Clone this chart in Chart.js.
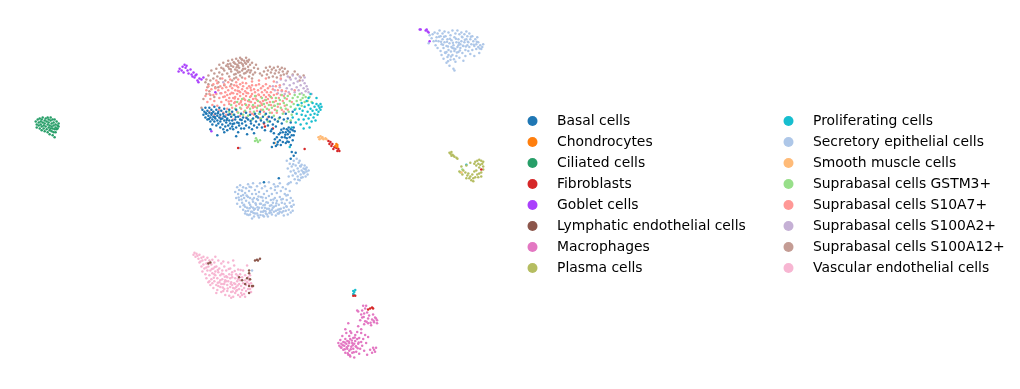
<!DOCTYPE html>
<html>
<head>
<meta charset="utf-8">
<script src="https://cdn.jsdelivr.net/npm/chart.js@4/dist/chart.umd.js"></script>
<style>
body { margin: 0; background: #fff; }
canvas { display: block; }
</style>
</head>
<body>
<canvas id="umapChart" width="1020" height="389"></canvas>
<script>
// values, [umap1, umap2] per cell
const basalCells = [[200,108],[201,113],[202,110],[203,106],[203,116],[204,112],[205,109],[205,118],[206,114],[207,106],[207,111],[208,116],[208,120],[209,108],[209,113],[210,118],[210,123],[211,110],[211,115],[212,105],[212,120],[213,112],[213,117],[214,108],[214,124],[215,114],[215,119],[216,110],[216,122],[217,106],[217,116],[218,113],[218,120],[218,126],[219,109],[220,117],[220,123],[221,112],[221,128],[222,107],[222,119],[223,115],[223,125],[224,110],[224,121],[225,117],[225,129],[226,113],[226,124],[227,108],[227,119],[228,122],[228,127],[229,115],[230,110],[230,119],[230,125],[231,128],[232,113],[232,122],[233,118],[234,108],[234,126],[235,121],[236,115],[236,131],[237,124],[238,118],[239,112],[239,127],[240,122],[241,116],[242,127],[243,120],[244,111],[244,124],[245,133],[246,118],[247,126],[248,113],[249,122],[250,128],[251,117],[252,124],[253,112],[254,120],[255,126],[256,116],[257,123],[258,110],[259,119],[260,126],[261,115],[262,121],[263,129],[264,112],[265,118],[266,124],[267,115],[268,120],[269,130],[270,116],[271,123],[273,118],[274,125],[276,120],[278,116],[280,122],[282,118],[284,112],[286,117],[289,121],[291,110],[215,134],[222,131],[208,128],[234,135],[252,132],[270,128],[272,132],[270,146],[272,142],[273,138],[274,145],[275,136],[276,141],[277,133],[278,139],[279,144],[280,136],[281,131],[281,141],[282,127],[283,136],[284,131],[284,142],[285,128],[285,137],[286,133],[287,126],[287,141],[288,131],[288,136],[289,128],[289,144],[290,134],[291,129],[291,139],[292,126],[292,134],[293,130],[290,151],[292,155],[294,152],[289,158],[262,182],[277,178],[203.5,111.5],[206.5,117.5],[209.5,111.5],[212.5,115.5],[215.5,111.5],[218.5,117.5],[221.5,114.5],[224.5,118.5],[227.5,112.5],[230.5,122.5],[233.5,115.5],[236.5,121.5],[239.5,118.5],[244.5,116.5],[248.5,119.5],[254.5,114.5],[278.5,131.5],[283.5,133.5],[286.5,129.5],[279.5,128.5],[275.5,143.5],[285.5,140.5]];
const chondrocytes = [[335,143],[336,144],[334,145],[336,146]];
const ciliatedCells = [[32,120],[33,123],[33,126],[34,118],[35,121],[35,124],[36,117],[36,127],[37,120],[37,123],[38,125],[38,129],[38,118],[39,121],[39,116],[40,127],[40,124],[41,119],[41,130],[41,122],[42,117],[42,125],[43,128],[43,120],[44,123],[44,131],[44,116],[45,126],[45,118],[45,121],[46,129],[46,124],[46,133],[47,119],[47,127],[47,116],[48,122],[48,130],[48,125],[49,118],[49,134],[49,127],[50,121],[50,131],[50,124],[51,128],[51,118],[51,136],[52,123],[52,131],[52,126],[53,120],[53,128],[54,124],[54,127],[55,122],[55,125]];
const fibroblasts = [[327,140],[329,141],[328,143],[331,143],[330,145],[333,146],[332,148],[335,147],[337,148],[338,150],[336,150],[262,122],[263,125],[271,127],[303,148],[367,312],[369,311],[371,310],[372,311],[352,298],[354,298],[481,169],[236,147]];
const gobletCells = [[177,66],[176,69],[179,68],[180,64],[182,62],[183,65],[184,63],[181,70],[185,68],[186,71],[188,67],[189,72],[191,70],[190,74],[192,75],[193,73],[194,72],[195,78],[197,76],[196,80],[199,77],[201,75],[213,90],[209,130],[419,26],[420,26],[425,27],[426,26],[427,28],[428,29],[429,38]];
const lymphaticEndothelialCells = [[253,262],[255,261],[256,262],[258,260],[208,264],[206,265],[237,279],[240,282],[245,280],[248,281],[247,272],[247,275],[247,288],[250,288],[251,288],[247,295],[243,286]];
const macrophages = [[337,346],[338,349],[339,343],[340,347],[340,351],[341,339],[342,345],[342,353],[343,349],[344,342],[344,356],[345,336],[345,347],[346,352],[346,344],[347,358],[347,349],[348,339],[348,346],[348,354],[349,342],[349,360],[350,350],[350,336],[351,346],[351,356],[352,341],[352,352],[353,347],[353,361],[354,338],[354,344],[355,355],[355,350],[356,342],[356,335],[357,347],[358,357],[358,341],[359,352],[360,345],[360,336],[361,349],[362,342],[363,354],[364,338],[365,346],[367,340],[369,353],[371,356],[372,351],[373,353],[374,355],[375,351],[366,358],[344,332],[349,334],[357,329],[360,332],[347,326],[363,327],[367,326],[370,328],[373,325],[376,323],[376,326],[359,323],[361,320],[364,324],[367,321],[371,322],[374,320],[363,316],[361,313],[364,311],[366,315],[368,318],[360,317],[357,314],[365,308],[362,308],[372,317],[375,321],[356,313],[341.5,348.5],[343.5,345.5],[345.5,350.5],[347.5,344.5],[349.5,352.5],[351.5,348.5],[346.5,356.5],[343.5,352.5],[350.5,343.5],[352.5,355.5],[354.5,349.5],[339.5,350.5],[348.5,358.5],[356.5,351.5],[357.5,345.5],[353.5,340.5],[365.5,324.5],[362.5,319.5],[369.5,325.5],[372.5,323.5]];
const plasmaCells = [[449,152],[450,153],[451,151],[452,154],[453,155],[454,156],[456,157],[457,158],[451,155],[475,161],[477,160],[479,159],[481,160],[483,161],[478,163],[480,164],[482,163],[476,165],[483,166],[479,167],[474,163],[470,162],[466,165],[461,166],[463,170],[459,171],[462,174],[465,172],[467,175],[468,173],[470,176],[472,174],[469,178],[471,180],[473,178],[475,177],[474,171],[477,174],[479,173],[481,172],[483,169],[481,176],[478,177],[473,181],[466,178],[476,170]];
const proliferatingCells = [[291,116],[293,108],[294,121],[295,112],[296,103],[297,118],[298,107],[299,123],[300,113],[300,101],[301,109],[302,118],[302,127],[303,105],[304,114],[305,122],[305,99],[306,110],[307,103],[307,117],[308,126],[309,107],[309,113],[310,120],[311,101],[311,109],[312,116],[313,105],[313,112],[314,119],[315,102],[315,108],[316,113],[317,104],[317,110],[318,106],[319,102],[319,108],[320,105],[309,92],[307,96],[315,96],[352,293],[353,294],[354,292],[352,296],[353,297],[466,164],[288,146],[290,126]];
const secretoryEpithelialCells = [[233,192],[234,198],[235,187],[235,204],[236,194],[237,200],[237,190],[238,207],[238,185],[239,196],[240,203],[240,191],[241,210],[241,187],[242,198],[242,205],[243,193],[243,214],[244,188],[244,201],[245,208],[245,196],[246,184],[246,211],[247,191],[247,203],[248,215],[248,198],[249,207],[249,187],[250,194],[250,212],[251,202],[251,183],[252,217],[252,198],[253,190],[253,209],[254,205],[254,194],[255,214],[255,186],[256,200],[256,210],[257,218],[257,192],[258,204],[258,183],[259,197],[259,212],[260,208],[260,188],[261,216],[261,201],[262,194],[262,211],[263,205],[263,186],[264,214],[264,198],[265,209],[265,191],[266,203],[266,217],[267,182],[267,196],[268,211],[268,206],[269,200],[269,188],[270,215],[270,194],[271,208],[271,203],[272,184],[272,212],[273,198],[273,190],[274,206],[274,216],[275,201],[275,193],[276,210],[276,186],[277,205],[277,214],[278,197],[278,183],[279,209],[279,191],[280,203],[280,213],[281,187],[281,199],[282,208],[282,216],[283,194],[283,204],[284,211],[284,189],[285,200],[285,207],[286,215],[286,195],[287,183],[287,210],[288,203],[288,191],[289,213],[289,198],[290,207],[291,201],[291,211],[292,205],[241,195],[243,207],[246,197],[248,205],[251,208],[253,214],[255,199],[257,208],[259,204],[261,212],[263,208],[265,215],[267,209],[269,213],[272,207],[274,211],[276,214],[249,212],[252,210],[245,215],[250,219],[256,216],[262,217],[270,210],[278,212],[285,160],[286,168],[287,176],[288,163],[289,171],[289,182],[290,166],[291,175],[292,160],[292,170],[293,179],[294,165],[294,173],[295,183],[296,168],[296,176],[297,162],[297,171],[298,180],[299,166],[299,174],[300,170],[300,164],[301,177],[302,168],[302,173],[303,165],[303,172],[304,176],[304,169],[305,171],[305,167],[306,174],[307,170],[298,160],[295,158],[286,184],[431,35],[432,31],[433,38],[434,29],[435,42],[436,34],[437,30],[437,45],[438,38],[439,27],[440,33],[440,48],[441,41],[441,52],[442,30],[442,36],[443,45],[443,56],[444,28],[444,39],[445,50],[445,33],[446,43],[446,60],[447,36],[447,54],[448,29],[448,47],[449,40],[449,63],[450,32],[450,57],[451,44],[451,37],[452,52],[452,27],[453,66],[453,42],[454,34],[454,48],[455,59],[455,30],[456,39],[456,53],[457,44],[457,27],[458,36],[458,49],[459,31],[459,55],[460,41],[460,45],[461,38],[461,29],[462,50],[462,34],[463,43],[463,58],[464,31],[464,39],[465,47],[465,53],[466,36],[466,28],[467,42],[467,33],[468,48],[468,39],[469,30],[469,44],[470,36],[470,51],[471,41],[472,33],[472,47],[473,38],[474,43],[474,53],[475,36],[476,46],[476,41],[477,34],[478,44],[478,39],[479,50],[480,42],[481,46],[482,44],[483,41],[428,40],[429,32],[454,68],[448,52],[446,49],[452,45],[458,42],[455,46],[250,272],[238,147],[239.5,199.5],[244.5,195.5],[247.5,208.5],[241.5,205.5],[236.5,197.5],[250.5,199.5],[253.5,203.5],[246.5,215.5],[258.5,215.5],[261.5,205.5],[256.5,196.5],[264.5,202.5],[267.5,213.5],[271.5,199.5],[274.5,203.5],[277.5,209.5],[281.5,211.5],[284.5,206.5],[263.5,211.5],[260.5,197.5],[255.5,207.5],[251.5,213.5],[243.5,211.5],[239.5,190.5],[247.5,186.5],[269.5,205.5],[273.5,186.5],[279.5,199.5],[284.5,195.5],[289.5,206.5],[293.5,172.5],[298.5,165.5],[301.5,171.5],[296.5,179.5],[291.5,163.5],[303.5,168.5],[299.5,177.5],[440.5,38.5],[443.5,33.5],[446.5,38.5],[449.5,35.5],[452.5,39.5],[455.5,35.5],[458.5,39.5],[461.5,33.5],[464.5,36.5],[467.5,38.5],[470.5,33.5],[473.5,41.5],[447.5,43.5],[450.5,48.5],[453.5,45.5],[456.5,49.5],[459.5,47.5],[462.5,42.5],[465.5,43.5],[444.5,49.5],[447.5,58.5],[450.5,53.5],[453.5,56.5],[442.5,41.5],[438.5,33.5],[435.5,37.5],[476.5,38.5],[479.5,45.5]];
const smoothMuscleCells = [[317,136],[319,135],[320,137],[321,136],[322,138],[324,137],[325,138],[318,138],[273,142],[461,172]];
const suprabasalCellsGstm3 = [[227,110],[229,103],[231,113],[233,107],[235,100],[236,111],[238,106],[240,97],[241,113],[243,109],[244,103],[246,114],[247,98],[248,107],[250,118],[251,103],[252,110],[253,94],[254,115],[255,106],[256,99],[257,112],[258,104],[259,117],[260,96],[261,108],[262,102],[263,113],[264,98],[265,107],[266,120],[267,103],[268,111],[269,95],[270,106],[271,100],[272,114],[273,104],[274,96],[275,109],[276,102],[277,117],[278,98],[279,106],[280,93],[281,112],[282,101],[283,96],[284,107],[285,103],[286,94],[287,110],[288,99],[289,105],[290,113],[291,96],[292,102],[293,93],[294,107],[295,99],[296,95],[297,103],[298,92],[299,98],[300,104],[301,96],[302,93],[303,100],[304,95],[306,99],[308,95],[310,100],[254,137],[255,139],[256,141],[253,140],[258,139],[289,119],[285,120],[276,120],[460,172],[462,169]];
const suprabasalCellsS10a7 = [[203,94],[204,88],[205,100],[206,84],[207,92],[208,97],[209,87],[210,103],[211,82],[211,93],[212,99],[213,86],[214,92],[215,104],[215,81],[216,88],[217,96],[217,108],[218,84],[219,91],[219,100],[220,86],[221,95],[221,111],[222,82],[222,103],[223,90],[224,85],[224,98],[225,93],[225,107],[226,80],[226,88],[227,96],[227,102],[228,84],[228,92],[229,99],[229,112],[230,86],[230,106],[231,91],[231,96],[232,83],[232,101],[233,88],[233,95],[234,104],[234,80],[235,92],[235,110],[236,85],[236,97],[237,102],[237,89],[238,94],[238,82],[239,99],[239,107],[240,87],[240,103],[241,92],[241,84],[242,97],[242,110],[243,89],[243,102],[244,94],[244,81],[245,86],[245,106],[246,99],[246,91],[247,84],[247,103],[248,95],[248,110],[249,88],[249,100],[250,92],[250,83],[251,97],[251,106],[252,87],[252,113],[253,101],[253,90],[254,94],[254,83],[255,98],[255,109],[256,88],[256,104],[257,93],[257,82],[258,100],[258,112],[259,86],[259,95],[260,103],[260,90],[261,84],[261,99],[262,93],[262,110],[263,88],[263,105],[264,95],[264,82],[265,101],[265,90],[266,97],[266,86],[267,108],[267,93],[268,100],[268,84],[269,90],[269,103],[270,96],[270,111],[271,87],[272,100],[272,93],[273,108],[274,84],[274,99],[275,92],[276,105],[276,88],[277,96],[278,102],[278,83],[279,93],[280,108],[280,88],[281,99],[282,94],[283,104],[284,89],[285,97],[286,108],[288,92],[290,100],[293,88],[214,78],[220,76],[228,77],[236,77],[243,76],[250,79],[257,78],[264,76],[272,79],[279,76],[207,110],[212,113],[218,116],[224,113],[231,118],[238,114],[244,116],[250,112],[258,117],[266,116],[243,98],[246,105],[233,100],[238,90],[249,94],[253,105],[259,108],[263,98],[268,94],[272,104],[275,111],[282,110],[229.5,90.5],[232.5,96.5],[235.5,88.5],[238.5,100.5],[241.5,96.5],[244.5,90.5],[247.5,99.5],[250.5,104.5],[253.5,96.5],[256.5,92.5],[259.5,101.5],[234.5,83.5],[240.5,80.5],[226.5,99.5],[222.5,94.5],[248.5,85.5]];
const suprabasalCellsS100a2 = [[271,84],[273,88],[275,80],[276,91],[278,85],[279,77],[280,89],[282,82],[283,92],[284,78],[285,86],[286,74],[287,90],[288,83],[289,77],[290,87],[291,73],[292,81],[293,90],[294,76],[295,85],[296,79],[297,88],[298,74],[299,83],[300,91],[301,78],[302,86],[303,81],[304,89],[305,84],[306,87],[307,90],[303,75],[310,92],[218,91],[221,80]];
const suprabasalCellsS100a12 = [[199,106],[201,97],[203,80],[204,77],[205,85],[206,73],[207,89],[208,78],[209,68],[210,83],[211,76],[212,71],[213,85],[214,66],[215,74],[216,80],[217,62],[217,70],[218,76],[219,65],[220,72],[221,60],[222,68],[223,78],[224,63],[225,71],[226,58],[227,66],[227,74],[228,61],[229,69],[230,57],[230,78],[231,64],[232,72],[232,60],[233,67],[234,56],[234,75],[235,62],[236,70],[236,58],[237,65],[238,73],[238,55],[239,60],[240,68],[240,57],[241,63],[242,71],[242,58],[243,66],[244,55],[244,61],[245,69],[246,59],[246,64],[247,74],[247,57],[248,62],[249,68],[250,60],[251,72],[252,65],[253,70],[254,62],[256,66],[258,71],[260,73],[262,69],[264,65],[265,72],[266,68],[267,75],[268,64],[269,70],[270,67],[271,74],[272,65],[273,71],[274,68],[275,75],[276,64],[277,70],[278,67],[279,73],[280,65],[281,69],[282,72],[283,66],[285,71],[286,69],[288,75],[291,72],[293,69],[296,72],[299,75],[302,73],[298,78],[204,92],[208,93],[212,95],[216,85],[206,82],[222,83],[229,82],[236,63],[241,66],[245,58],[233,61],[226,64],[221,66],[229,63],[237,60],[243,60],[248,70],[235,68],[232,76],[240,75],[250,76],[228.5,66.5],[231.5,59.5],[234.5,64.5],[237.5,69.5],[240.5,61.5],[243.5,70.5],[246.5,67.5],[225.5,61.5],[233.5,71.5],[239.5,56.5]];
const vascularEndothelialCells = [[191,256],[192,254],[193,258],[194,255],[195,257],[196,260],[197,256],[198,263],[199,259],[199,268],[200,262],[200,273],[201,266],[201,258],[202,270],[203,261],[203,276],[204,265],[204,280],[205,259],[205,272],[206,268],[206,284],[207,262],[207,277],[208,272],[208,287],[209,266],[209,281],[210,261],[210,275],[211,270],[211,290],[212,283],[212,264],[213,277],[213,273],[214,287],[214,268],[215,280],[215,292],[216,274],[216,262],[217,284],[217,270],[218,289],[218,277],[219,265],[219,294],[220,281],[220,272],[221,286],[221,276],[222,291],[222,268],[223,282],[223,297],[224,278],[224,272],[225,287],[225,293],[226,283],[226,264],[227,276],[227,298],[228,289],[228,270],[229,284],[229,294],[230,279],[230,274],[231,290],[231,299],[232,285],[232,267],[233,295],[233,280],[234,276],[234,289],[235,292],[235,283],[236,297],[236,271],[237,286],[237,291],[238,282],[238,276],[239,295],[239,288],[240,279],[240,292],[241,285],[241,272],[242,290],[242,296],[243,282],[243,277],[244,293],[244,287],[245,284],[245,267],[246,291],[246,279],[247,286],[247,282],[248,291],[248,277],[249,285],[249,294],[250,289],[197,264],[204,269],[210,285],[216,288],[222,286],[228,280],[234,293],[240,297],[243,299],[219,286],[224,283],[212,276],[207,283],[230,287],[236,281],[233,286],[225,279],[218,282],[221,293],[214,295],[238,299],[229,300],[213,258],[221,263],[231,262],[205.5,264.5],[209.5,270.5],[212.5,268.5],[215.5,271.5],[219.5,275.5],[222.5,278.5],[226.5,270.5],[229.5,276.5],[232.5,272.5],[235.5,277.5],[238.5,271.5],[211.5,279.5],[215.5,284.5],[220.5,289.5],[225.5,290.5],[230.5,293.5],[235.5,287.5],[222.5,283.5],[228.5,285.5],[232.5,290.5]];

const clusterNames = ['Basal cells', 'Chondrocytes', 'Ciliated cells', 'Fibroblasts', 'Goblet cells', 'Lymphatic endothelial cells', 'Macrophages', 'Plasma cells', 'Proliferating cells', 'Secretory epithelial cells', 'Smooth muscle cells', 'Suprabasal cells GSTM3+', 'Suprabasal cells S10A7+', 'Suprabasal cells S100A2+', 'Suprabasal cells S100A12+', 'Vascular endothelial cells'];
const clusterPoints = [basalCells, chondrocytes, ciliatedCells, fibroblasts, gobletCells, lymphaticEndothelialCells, macrophages, plasmaCells, proliferatingCells, secretoryEpithelialCells, smoothMuscleCells, suprabasalCellsGstm3, suprabasalCellsS10a7, suprabasalCellsS100a2, suprabasalCellsS100a12, vascularEndothelialCells];
const clusterColors = ['#1f77b4', '#ff7f0e', '#279e68', '#d62728', '#aa40fc', '#8c564b', '#e377c2', '#b5bd61', '#17becf', '#aec7e8', '#ffbb78', '#98df8a', '#ff9896', '#c5b0d5', '#c49c94', '#f7b6d2'];

// two column legend, Chart.js' own legend can't be told where to wrap
const twoColumnLegend = {
    id: 'twoColumnLegend',
    afterDraw(chart) {
        const ctx = chart.ctx;
        ctx.save();
        ctx.font = '13.9px "DejaVu Sans"';
        ctx.textBaseline = 'middle';
        chart.data.datasets.forEach((ds, i) => {
            const col = i < 8 ? 0 : 1;
            const y = 121 + (i % 8) * 21;
            ctx.fillStyle = ds.backgroundColor;
            ctx.beginPath();
            ctx.arc(532.5 + col * 256, y, 5, 0, Math.PI * 2);
            ctx.fill();
            ctx.fillStyle = '#000';
            ctx.fillText(ds.label, 557 + col * 256, y + 0.5);
        });
        ctx.restore();
    }
};

new Chart(document.getElementById('umapChart').getContext('2d'), {
    type: 'scatter',
    data: {
        datasets: clusterNames.map((name, i) => ({
            label: name,
            data: clusterPoints[i].map(p => ({ x: p[0], y: p[1] })),
            backgroundColor: clusterColors[i],
            pointRadius: 1.25,
            pointBorderWidth: 0
        }))
    },
    options: {
        responsive: false,
        animation: false,
        layout: { padding: 0 },
        plugins: { legend: { display: false }, tooltip: { enabled: false } },
        scales: {
            x: { type: 'linear', min: 0, max: 1020, display: false },
            y: { type: 'linear', min: 0, max: 389, reverse: true, display: false }
        }
    },
    plugins: [twoColumnLegend]
});
</script>
</body>
</html>
